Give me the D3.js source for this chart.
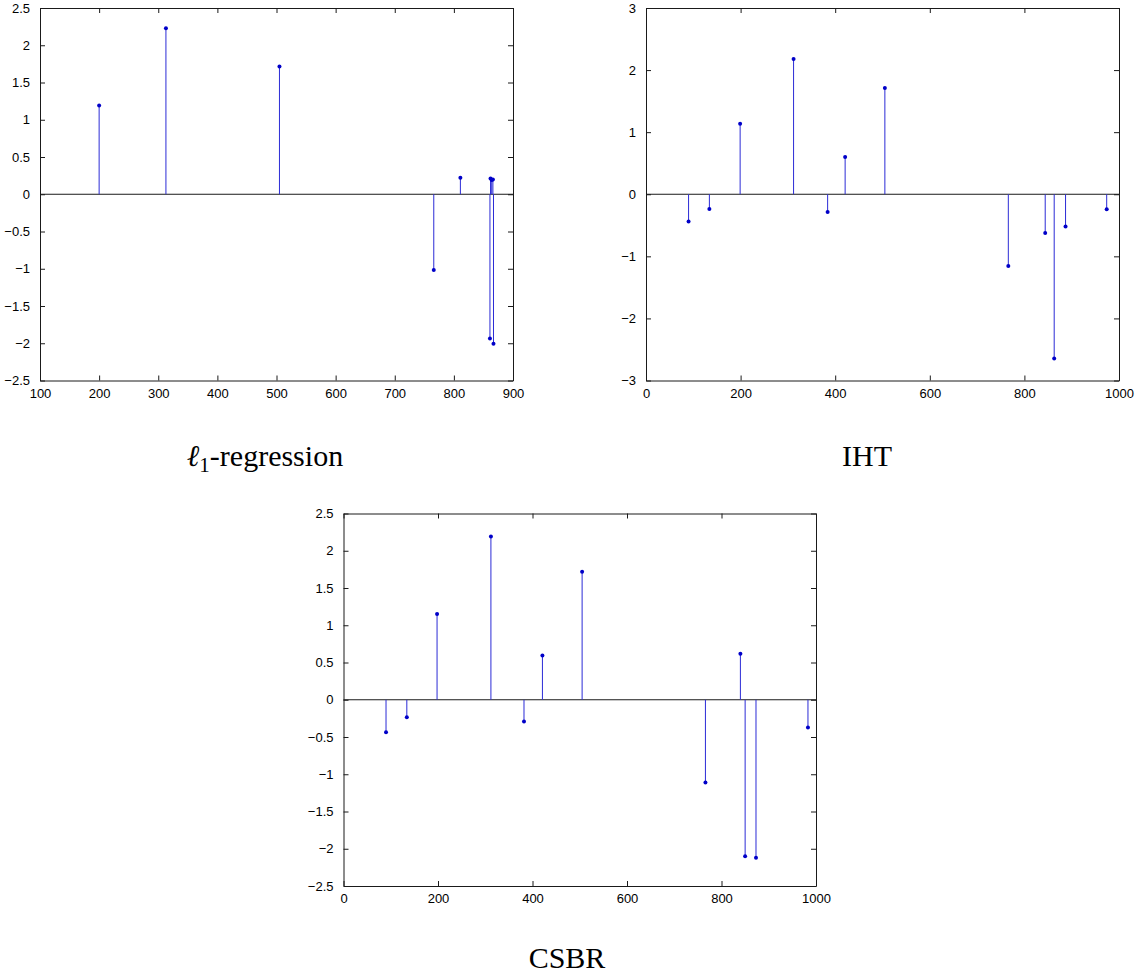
<!DOCTYPE html>
<html>
<head>
<meta charset="utf-8">
<script src="https://cdn.jsdelivr.net/npm/d3@7"></script>
<style>
  html, body { margin: 0; padding: 0; background: #fff; }
  svg { display: block; }
</style>
</head>
<body>
<svg id="chart" width="1139" height="978"></svg>
<script>
// ---- Data ----
// l1-regression
const l1Index  = [200, 313, 505, 766, 811, 861, 862, 864, 866, 867];
const l1Value  = [1.19, 2.227, 1.716, -1.017, 0.22, -1.935, 0.21, 0.19, 0.197, -2.007];
const l1XTicks = [100, 200, 300, 400, 500, 600, 700, 800, 900];
const l1YTicks = [-2.5, -2, -1.5, -1, -0.5, 0, 0.5, 1, 1.5, 2, 2.5];

// IHT
const ihtIndex  = [90, 134, 199, 312, 384, 421, 505, 766, 844, 863, 887, 974];
const ihtValue  = [-0.44, -0.237, 1.134, 2.18, -0.285, 0.60, 1.71, -1.156, -0.624, -2.645, -0.52, -0.242];
const ihtXTicks = [0, 200, 400, 600, 800, 1000];
const ihtYTicks = [-3, -2, -1, 0, 1, 2, 3];

// CSBR
const csbrIndex  = [90, 134, 198, 312, 382, 421, 505, 766, 840, 850, 873, 983];
const csbrValue  = [-0.436, -0.234, 1.151, 2.19, -0.292, 0.594, 1.718, -1.11, 0.616, -2.10, -2.12, -0.373];
const csbrXTicks = [0, 200, 400, 600, 800, 1000];
const csbrYTicks = [-2.5, -2, -1.5, -1, -0.5, 0, 0.5, 1, 1.5, 2, 2.5];

const svg = d3.select("#chart");
const fmt = v => String(v).replace("-", "\u2212");

function panel(opts) {
  const { left, top, width, height, xDomain, yDomain, xTicks, yTicks, idx, val, caption, capX, capY } = opts;
  const g = svg.append("g").attr("transform", `translate(${left},${top})`);
  const x = d3.scaleLinear().domain(xDomain).range([0, width]);
  const y = d3.scaleLinear().domain(yDomain).range([height, 0]);
  const tl = 5;

  // inward ticks on all sides
  const axB = d3.axisBottom(x).tickValues(xTicks).tickSizeInner(-tl).tickSizeOuter(0).tickFormat(fmt).tickPadding(tl + 3);
  const axT = d3.axisTop(x).tickValues(xTicks).tickSizeInner(-tl).tickSizeOuter(0).tickFormat("");
  const axL = d3.axisLeft(y).tickValues(yTicks).tickSizeInner(-tl).tickSizeOuter(0).tickFormat(fmt).tickPadding(tl + 5);
  const axR = d3.axisRight(y).tickValues(yTicks).tickSizeInner(-tl).tickSizeOuter(0).tickFormat("");

  const style = sel => {
    sel.select(".domain").attr("stroke", "#1a1a1a").attr("stroke-width", 1);
    sel.selectAll(".tick line").attr("stroke", "#1a1a1a").attr("stroke-width", 1);
    sel.selectAll(".tick text").attr("fill", "#000").style("font-family", "'Liberation Sans', Arial, sans-serif").style("font-size", "13px");
  };
  g.append("g").attr("transform", `translate(0,${height})`).call(axB).call(style);
  g.append("g").call(axT).call(style);
  g.append("g").call(axL).call(style);
  g.append("g").attr("transform", `translate(${width},0)`).call(axR).call(style);

  // baseline
  g.append("line").attr("x1", 0).attr("x2", width).attr("y1", y(0)).attr("y2", y(0))
    .attr("stroke", "#1a1a1a").attr("stroke-width", 1);

  const data = idx.map((d, i) => ({ i: d, v: val[i] }));
  g.selectAll(".stem").data(data).enter().append("line")
    .attr("x1", d => x(d.i)).attr("x2", d => x(d.i))
    .attr("y1", y(0)).attr("y2", d => y(d.v))
    .attr("stroke", "#2b2bd6").attr("stroke-width", 1);
  g.selectAll(".dot").data(data).enter().append("circle")
    .attr("cx", d => x(d.i)).attr("cy", d => y(d.v)).attr("r", 2)
    .attr("fill", "#0000c8");

  // caption
  const t = svg.append("text").attr("x", capX).attr("y", capY)
    .attr("text-anchor", "middle")
    .style("font-family", "'Liberation Serif', 'DejaVu Serif', serif")
    .style("font-size", "30px").attr("fill", "#000");
  caption(t);
}

panel({
  left: 40, top: 8, width: 473, height: 372.5,
  xDomain: [100, 900], yDomain: [-2.5, 2.5], xTicks: l1XTicks, yTicks: l1YTicks,
  idx: l1Index, val: l1Value, capX: 265, capY: 466,
  caption: t => {
    t.append("tspan").style("font-style", "italic").text("\u2113");
    t.append("tspan").attr("dy", 6).style("font-size", "21px").text("1");
    t.append("tspan").attr("dy", -6).text("-regression");
  }
});

panel({
  left: 646, top: 8, width: 473, height: 372.5,
  xDomain: [0, 1000], yDomain: [-3, 3], xTicks: ihtXTicks, yTicks: ihtYTicks,
  idx: ihtIndex, val: ihtValue, capX: 867, capY: 466,
  caption: t => t.text("IHT")
});

panel({
  left: 343.5, top: 513.5, width: 472.5, height: 372.5,
  xDomain: [0, 1000], yDomain: [-2.5, 2.5], xTicks: csbrXTicks, yTicks: csbrYTicks,
  idx: csbrIndex, val: csbrValue, capX: 567, capY: 968,
  caption: t => t.text("CSBR")
});
</script>
</body>
</html>
